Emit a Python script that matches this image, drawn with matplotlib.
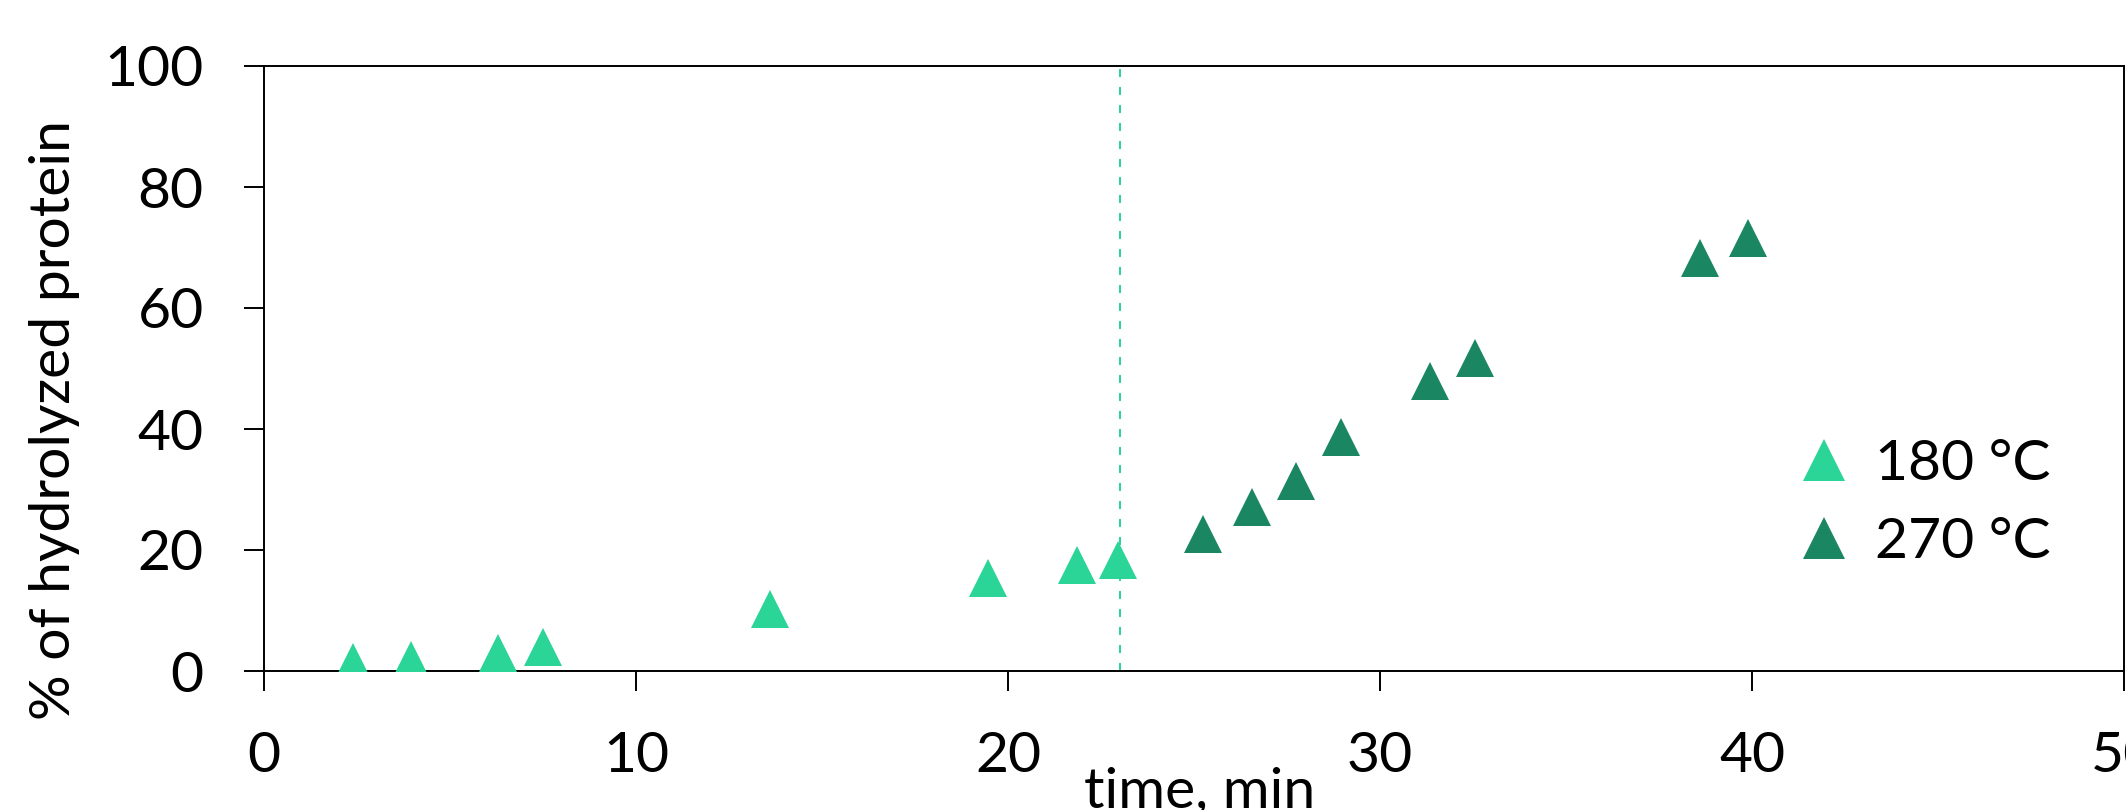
import matplotlib

matplotlib.use("Agg")
import matplotlib.pyplot as plt

# hydrolysis series
time_180 = [2.4, 3.95, 6.3, 7.5, 13.6, 19.45, 21.85, 22.95]
hydrolyzed_180 = [1.5, 1.8, 3.0, 4.0, 10.2, 15.4, 17.5, 18.3]
time_270 = [25.25, 26.55, 27.75, 28.95, 31.35, 32.55, 38.6, 39.9]
hydrolyzed_270 = [22.7, 27.1, 31.4, 38.6, 47.9, 51.8, 68.3, 71.5]
switch_time = 23

x_ticks = [0, 10, 20, 30, 40, 50]
y_ticks = [0, 20, 40, 60, 80, 100]

LIGHT = "#2BD597"
DARK = "#1B8762"

plt.rcParams["font.family"] = ["Lato", "DejaVu Sans"]
plt.rcParams["font.size"] = 41

fig = plt.figure(figsize=(21.26, 8.10), dpi=100, facecolor="white")
ax = fig.add_axes([264 / 2126, 1 - 671 / 810, 1860 / 2126, 605 / 810])

ax.axvline(switch_time, color=LIGHT, linewidth=1.44, linestyle=(0, (4, 5)), zorder=1)
ax.plot(time_180, hydrolyzed_180, linestyle="none", marker="^", markersize=28,
        markeredgewidth=0, color=LIGHT, label="180 °C", zorder=3)
ax.plot(time_270, hydrolyzed_270, linestyle="none", marker="^", markersize=28,
        markeredgewidth=0, color=DARK, label="270 °C", zorder=3)

ax.set_xlim(0, 50)
ax.set_ylim(0, 100)
ax.set_xticks(x_ticks)
ax.set_yticks(y_ticks)
ax.tick_params(direction="out", length=14.4, width=1.4, pad=29, labelsize=41)
for spine in ax.spines.values():
    spine.set_linewidth(1.4)
    spine.set_color("black")

ax.set_xlabel("time, min")
ax.xaxis.set_label_coords(0.503, -0.157)
ax.set_ylabel("% of hydrolyzed protein")
ax.yaxis.set_label_coords(-0.099, 0.415)

ax.legend(loc="center left", bbox_to_anchor=(0.811, 0.277), frameon=False,
          borderpad=0, handlelength=0.8, handletextpad=0.5, labelspacing=0.48,
          markerscale=1.1, fontsize=41)

fig.savefig("out.png", dpi=100)
